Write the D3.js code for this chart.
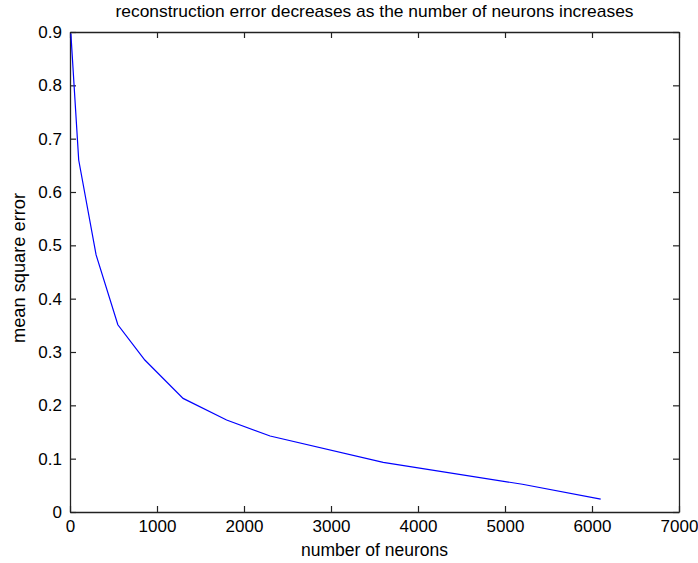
<!DOCTYPE html>
<html>
<head>
<meta charset="utf-8">
<script src="https://cdn.jsdelivr.net/npm/d3@7"></script>
<style>
  html, body { margin: 0; padding: 0; background: #fff; }
  svg { display: block; font-family: "Liberation Sans", Arial, sans-serif; }
  .tick text { fill: #000; }
</style>
</head>
<body>
<svg id="chart" width="698" height="563"></svg>
<script>
// Number of neurons vs. mean square reconstruction error
const neurons = [10, 100, 300, 550, 860, 1300, 1800, 2300, 3600, 5200, 6100];
const mse     = [0.897, 0.66, 0.482, 0.351, 0.285, 0.213, 0.1725, 0.1425, 0.093, 0.052, 0.024];

const xTicks = [0, 1000, 2000, 3000, 4000, 5000, 6000, 7000];
const yTicks = [0, 0.1, 0.2, 0.3, 0.4, 0.5, 0.6, 0.7, 0.8, 0.9];

const titleText = "reconstruction error decreases as the number of neurons increases";
const xLabel = "number of neurons";
const yLabel = "mean square error";

const svg = d3.select("#chart");
const margin = { left: 70, top: 32, right: 19, bottom: 51 };
const W = 698, H = 563;
const x = d3.scaleLinear().domain([0, 7000]).range([margin.left, W - margin.right]);
const y = d3.scaleLinear().domain([0, 0.9]).range([H - margin.bottom, margin.top]);

const fmtY = d => d === 0 ? "0" : d3.format(".1f")(d);
const tickLen = 6;

// bottom axis (labels) and top axis (ticks only)
const gx = svg.append("g").attr("transform", `translate(0,${y(0)})`)
  .call(d3.axisBottom(x).tickValues(xTicks).tickSizeInner(-tickLen).tickSizeOuter(0).tickPadding(8).tickFormat(d3.format("d")));
const gxTop = svg.append("g").attr("transform", `translate(0,${y(0.9)})`)
  .call(d3.axisTop(x).tickValues(xTicks).tickSizeInner(-tickLen).tickSizeOuter(0).tickFormat(""));
const gy = svg.append("g").attr("transform", `translate(${x(0)},0)`)
  .call(d3.axisLeft(y).tickValues(yTicks).tickSizeInner(-tickLen).tickSizeOuter(0).tickPadding(8).tickFormat(fmtY));
const gyRight = svg.append("g").attr("transform", `translate(${x(7000)},0)`)
  .call(d3.axisRight(y).tickValues(yTicks).tickSizeInner(-tickLen).tickSizeOuter(0).tickFormat(""));

[gx, gxTop, gy, gyRight].forEach(g => {
  g.selectAll(".domain").attr("stroke", "#222").attr("stroke-width", 1.3);
  g.selectAll(".tick line").attr("stroke", "#222").attr("stroke-width", 1.2);
  g.selectAll(".tick text").attr("font-size", 17).attr("font-family", "Liberation Sans, Arial, sans-serif");
});

// data line
const line = d3.line().x((d, i) => x(neurons[i])).y(d => y(d));
svg.append("path").datum(mse)
  .attr("fill", "none").attr("stroke", "#0000ff").attr("stroke-width", 1.2)
  .attr("d", line);

// title and axis labels
svg.append("text").attr("x", (x(0) + x(7000)) / 2).attr("y", 17)
  .attr("text-anchor", "middle").attr("font-size", 17).attr("fill", "#000")
  .attr("textLength", 518).attr("lengthAdjust", "spacingAndGlyphs")
  .text(titleText);
svg.append("text").attr("x", (x(0) + x(7000)) / 2).attr("y", 556)
  .attr("text-anchor", "middle").attr("font-size", 17.5).attr("fill", "#000")
  .attr("textLength", 147).attr("lengthAdjust", "spacingAndGlyphs")
  .text(xLabel);
svg.append("text").attr("transform", `translate(25,268) rotate(-90)`)
  .attr("text-anchor", "middle").attr("font-size", 17.5).attr("fill", "#000")
  .attr("textLength", 150).attr("lengthAdjust", "spacingAndGlyphs")
  .text(yLabel);
</script>
</body>
</html>
